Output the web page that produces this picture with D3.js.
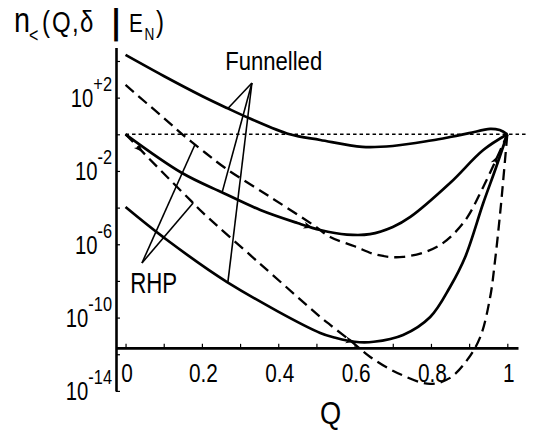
<!DOCTYPE html>
<html>
<head>
<meta charset="utf-8">
<script src="https://cdn.jsdelivr.net/npm/d3@7"></script>
<style>
  html, body { margin: 0; padding: 0; background: #fff; }
  svg { display: block; }
  text { font-family: "Liberation Sans", Arial, sans-serif; fill: #000; }
</style>
</head>
<body>
<div id="chart"></div>
<script>
// DATA: Q and log10 of n_<(Q,delta|E_N)
// funnelled, solid (upper)
const funnelTopQ   = [0, 0.1, 0.2, 0.266, 0.326, 0.43, 0.51, 0.62, 0.7, 0.8, 0.85, 0.9, 0.955, 0.98, 1];
const funnelTopLog = [4.33, 3.18, 2.09, 1.43, 0.86, 0, -0.31, -0.69, -0.64, -0.34, -0.15, 0.06, 0.3, 0.23, 0];
// RHP, dashed (upper)
const rhpTopQ   = [0, 0.1, 0.151, 0.2, 0.261, 0.379, 0.492, 0.536, 0.6, 0.659, 0.727, 0.816, 0.885, 0.937, 0.982, 1];
const rhpTopLog = [2.69, 0.89, -0.04, -0.86, -1.84, -3.42, -4.95, -5.6, -6.11, -6.58, -6.69, -6.14, -4.83, -2.87, -0.85, 0];
// funnelled, solid (middle)
const funnelMidQ   = [0, 0.148, 0.256, 0.353, 0.45, 0.51, 0.58, 0.64, 0.7, 0.746, 0.85, 0.937, 1];
const funnelMidLog = [0, -2.11, -3.2, -4.13, -4.84, -5.22, -5.47, -5.45, -5.06, -4.51, -2.66, -0.86, 0];
// RHP, dashed (lower)
const rhpLowQ   = [0, 0.1, 0.169, 0.203, 0.35, 0.51, 0.536, 0.596, 0.641, 0.712, 0.798, 0.85, 0.895, 0.929, 0.955, 0.968, 0.982, 0.99, 1];
const rhpLowLog = [0, -2.14, -3.58, -4.29, -7.02, -9.96, -10.4, -11.38, -12.15, -13.02, -13.62, -13.29, -12.31, -11.07, -8.89, -6.87, -4.14, -2.34, 0];
// funnelled, solid (lower)
const funnelLowQ   = [0, 0.098, 0.266, 0.51, 0.55, 0.6, 0.65, 0.727, 0.798, 0.85, 0.89, 0.937, 0.97, 1];
const funnelLowLog = [-3.97, -5.6, -8.06, -10.84, -11.1, -11.32, -11.32, -10.95, -9.97, -8.33, -6.68, -3.75, -1.84, 0];

const referenceQ = [0, 1.052];
const referenceLog = 0;

const xTickValues = [0, 0.2, 0.4, 0.6, 0.8, 1];
const xTickLabels = ["0", "0.2", "0.4", "0.6", "0.8", "1"];
const yTickExponents = [2, -2, -6, -10, -14];
const yTickLabels = ["+2", "-2", "-6", "-10", "-14"];
const xAxisLevel = -11.65;

// annotation pointers: label anchor (Q, log) and the curve points they point to
const funnelledApex = [0.331, 2.8];
const funnelledTargets = [["funnelTop", 0.268], ["funnelMid", 0.253], ["funnelLow", 0.268]];
const rhpApex = [0.043, -7.02];
const rhpTargets = [["rhpTop", 0.182], ["rhpLow", 0.177]];
const arrowMarks = [["rhpLow", 0.045], ["funnelMid", 0.49], ["rhpTop", 0.975], ["funnelLow", 0.6]];

//CURVES
const curves = {
    funnelTop: { q: funnelTopQ, l: funnelTopLog, dashed: false },
    rhpTop:    { q: rhpTopQ,    l: rhpTopLog,    dashed: true },
    funnelMid: { q: funnelMidQ, l: funnelMidLog, dashed: false },
    rhpLow:    { q: rhpLowQ,    l: rhpLowLog,    dashed: true },
    funnelLow: { q: funnelLowQ, l: funnelLowLog, dashed: false }
};

//INIT
const width = 535, height = 439;
const svg = d3.select("#chart").append("svg")
    .attr("width", width)
    .attr("height", height);

const x = d3.scaleLinear().domain([-0.025, 1.028]).range([116, 518]);
const y = d3.scaleLog().domain([1e-14, Math.pow(10, 4.73)]).range([390.9, 47.6]);
const py = l => y(Math.pow(10, l));

const logAt = (name, q) => d3.scaleLinear().domain(curves[name].q).range(curves[name].l)(q);

//AXES
const yAxis = svg.append("g")
    .attr("transform", `translate(${x(-0.025)},0)`)
    .call(d3.axisLeft(y)
        .tickValues(d3.range(-14, 5, 2).map(e => Math.pow(10, e)))
        .tickFormat("")
        .tickSizeInner(-4)
        .tickSizeOuter(0));

const xAxis = svg.append("g")
    .attr("transform", `translate(0,${py(xAxisLevel)})`)
    .call(d3.axisBottom(x)
        .tickValues(d3.range(0, 11).map(i => i / 10))
        .tickFormat("")
        .tickSizeInner(-4)
        .tickSizeOuter(0));

[xAxis, yAxis].forEach(a => {
    a.select(".domain").attr("stroke", "#000").attr("stroke-width", 2.6);
    a.selectAll(".tick line").attr("stroke", "#000").attr("stroke-width", 1.2);
});

// y tick labels, 10^e
yTickExponents.forEach((e, i) => {
    const t = svg.append("g")
        .attr("transform", `translate(112,${py(e)}) scale(0.78,1)`)
        .append("text")
        .attr("y", 9.5)
        .attr("text-anchor", "end");
    t.append("tspan").attr("font-size", 26).text("10");
    t.append("tspan").attr("font-size", 21).attr("dy", -16).text(yTickLabels[i]);
});

// x tick labels
xTickValues.forEach((v, i) => {
    svg.append("g")
        .attr("transform", `translate(${x(v) + 1.5},382) scale(0.8,1)`)
        .append("text")
        .attr("text-anchor", "middle")
        .attr("font-size", 26)
        .text(xTickLabels[i]);
});

// x title
svg.append("g")
    .attr("transform", `translate(${x(0.537)},424) scale(0.85,1)`)
    .append("text")
    .attr("text-anchor", "middle")
    .attr("font-size", 32)
    .text("Q");

// y title: n_<(Q,δ | E_N)
const k = 0.8;
const title = svg.append("g").attr("transform", `scale(${k},1)`).append("text");
[
    ["n", 14, 32, 36],
    ["<", 29, 42, 20],
    ["(", 42, 32, 30],
    ["Q", 52, 32, 30],
    [",", 72, 32, 30],
    ["δ", 80, 32, 30],
    ["|", 112, 34, 36],
    ["E", 129, 32, 26],
    ["N", 144.5, 40, 17],
    [")", 156, 32, 30]
].forEach(([s, px, by, fs]) => {
    title.append("tspan")
        .attr("x", px / k)
        .attr("y", by)
        .attr("font-size", fs)
        .attr("font-weight", s === "|" ? "bold" : null)
        .text(s);
});

//REFERENCE LINE
svg.append("line")
    .attr("x1", x(referenceQ[0]))
    .attr("x2", x(referenceQ[1]))
    .attr("y1", py(referenceLog))
    .attr("y2", py(referenceLog))
    .attr("stroke", "#000")
    .attr("stroke-width", 1.6)
    .attr("stroke-dasharray", "3.5,3");

//LINES
const line = d3.line()
    .x(d => x(d[0]))
    .y(d => py(d[1]))
    .curve(d3.curveCatmullRom.alpha(0.5));

Object.values(curves).forEach(c => {
    svg.append("path")
        .attr("d", line(d3.zip(c.q, c.l)))
        .attr("fill", "none")
        .attr("stroke", "#000")
        .attr("stroke-width", c.dashed ? 2.3 : 2.7)
        .attr("stroke-dasharray", c.dashed ? "11,6" : null);
});

// small arrowheads along curves
arrowMarks.forEach(([name, q]) => {
    const x1 = x(q), y1 = py(logAt(name, q));
    const x0 = x(q - 0.006), y0 = py(logAt(name, q - 0.006));
    const ang = Math.atan2(y1 - y0, x1 - x0) * 180 / Math.PI;
    svg.append("path")
        .attr("d", "M0,0L-9,-3.5L-6.5,0L-9,3.5Z")
        .attr("transform", `translate(${x1},${y1}) rotate(${ang})`)
        .attr("fill", "#000");
});

//ANNOTATIONS
const pointers = svg.append("g")
    .attr("stroke", "#000")
    .attr("stroke-width", 1.6);

[[funnelledApex, funnelledTargets], [rhpApex, rhpTargets]].forEach(([apex, targets]) => {
    targets.forEach(([name, q]) => {
        pointers.append("line")
            .attr("x1", x(apex[0]))
            .attr("y1", py(apex[1]))
            .attr("x2", x(q))
            .attr("y2", py(logAt(name, q)));
    });
});

svg.append("text")
    .attr("x", x(0.261))
    .attr("y", py(3.51))
    .attr("font-size", 26)
    .attr("textLength", 97)
    .attr("lengthAdjust", "spacingAndGlyphs")
    .text("Funnelled");

svg.append("text")
    .attr("x", x(0.012))
    .attr("y", py(-8.66))
    .attr("font-size", 30)
    .attr("textLength", 47)
    .attr("lengthAdjust", "spacingAndGlyphs")
    .text("RHP");
</script>
</body>
</html>
